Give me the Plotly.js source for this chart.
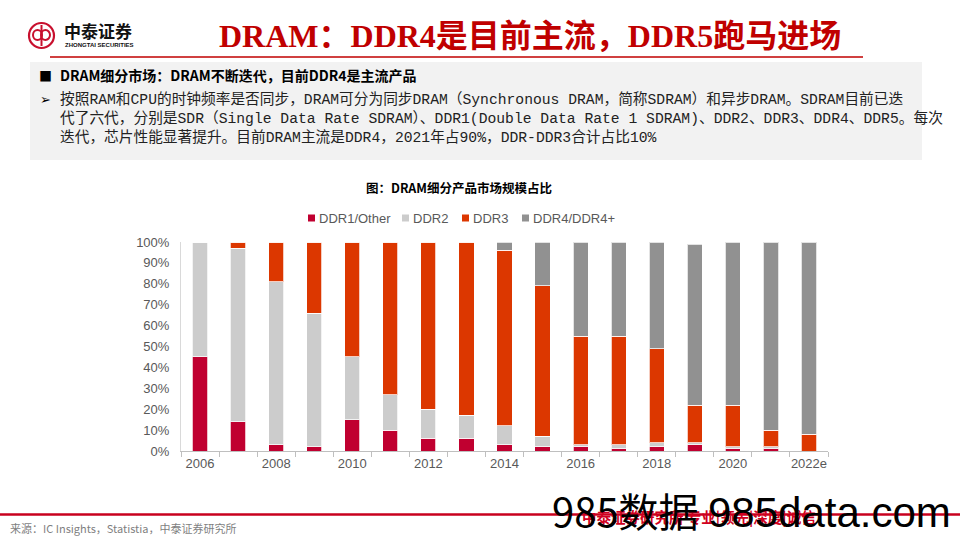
<!DOCTYPE html>
<html>
<head>
<meta charset="utf-8">
<script src="https://cdn.plot.ly/plotly-3.0.1.min.js"></script>
<style>
html,body{margin:0;padding:0;background:#fff;}
#chart{width:960px;height:540px;}
</style>
</head>
<body>
<div id="chart"></div>
<script>
// ---- data ----
const years = ['2006','2007','2008','2009','2010','2011','2012','2013','2014','2015','2016','2017','2018','2019','2020','2021','2022e'];
const ddr1  = [45, 14, 3, 2, 15, 10, 6, 6, 3, 2, 2, 1, 2, 3, 1, 1, 0];
const ddr2  = [55, 83, 78, 64, 30, 17, 14, 11, 9, 5, 1, 2, 2, 1, 1, 1, 0];
const ddr3  = [0, 3, 19, 34, 55, 73, 80, 83, 84, 72, 52, 52, 45, 18, 20, 8, 8];
const ddr4  = [0, 0, 0, 0, 0, 0, 0, 0, 4, 21, 45, 45, 51, 77, 78, 90, 92];
const seriesNames = ['DDR1/Other','DDR2','DDR3','DDR4/DDR4+'];
const yTicks = [0,10,20,30,40,50,60,70,80,90,100];
const xTickText = years.map((y,i)=> i%2===0 ? y : '');

const colors = ['#C00030','#CCCCCC','#DC3700','#919191'];

// plot area in pixels
const L=181, R=828, T=242, B=451;
const X = px => (px-L)/(R-L);
const Y = py => (B-py)/(B-T);

const series=[ddr1,ddr2,ddr3,ddr4];
const traces = series.map((s,i)=>({
  type:'bar', x:years, y:s, name:seriesNames[i],
  marker:{color:colors[i], line:{color:'rgba(255,255,255,0.75)', width:1}},
  hoverinfo:'skip', showlegend:false
}));

const cjk = '"Noto Sans CJK SC", sans-serif';
const body = '"Liberation Mono", "Noto Sans CJK SC", monospace';
const sans = '"Liberation Sans", Arial, sans-serif';

const ann = [];
function txt(text,px,py,opt){
  ann.push(Object.assign({text:text, xref:'paper', yref:'paper', x:X(px), y:Y(py),
    xanchor:'left', yanchor:'middle', showarrow:false,
    font:{family:cjk,size:14,color:'#000'}}, opt||{}));
}
// header
txt('中泰证券',62,30,{font:{family:cjk,size:17,color:'#111',weight:700}});
txt('ZHONGTAI SECURITIES',63,44.5,{font:{family:sans,size:6,color:'#111',weight:700}});
txt('<b>DRAM：DDR4是目前主流，DDR5跑马进场</b>',217,36,{font:{family:'"Liberation Serif", "Noto Sans CJK SC", serif',size:32,color:'#C00000'}});
// box text
txt('■',37,75,{font:{family:cjk,size:13,color:'#000'}});
txt('<b>DRAM细分市场：DRAM不断迭代，目前DDR4是主流产品</b>',58,75,{font:{family:cjk,size:14,color:'#000'}});
txt('➢',38,99,{font:{family:'"DejaVu Sans", sans-serif',size:13,color:'#000'}});
txt('按照RAM和CPU的时钟频率是否同步，DRAM可分为同步DRAM（Synchronous DRAM，简称SDRAM）和异步DRAM。SDRAM目前已迭',58,99,{font:{family:body,size:14.7,color:'#222'}});
txt('代了六代，分别是SDR（Single Data Rate SDRAM）、DDR1(Double Data Rate 1 SDRAM)、DDR2、DDR3、DDR4、DDR5。每次',58,118,{font:{family:body,size:14.7,color:'#222'}});
txt('迭代，芯片性能显著提升。目前DRAM主流是DDR4，2021年占90%，DDR-DDR3合计占比10%',58,137,{font:{family:body,size:14.7,color:'#222'}});
// chart title
ann.push({text:'<b>图：DRAM细分产品市场规模占比</b>', xref:'paper', yref:'paper', x:X(459), y:Y(187),
  xanchor:'center', yanchor:'middle', showarrow:false, font:{family:cjk,size:12.5,color:'#000'}});
// legend (custom, matching reference spacing)
const legX = [308, 402, 462, 522];
seriesNames.forEach((n,i)=>{
  txt(n, legX[i]+9, 218, {font:{family:sans,size:13,color:'#595959'}});
});
// footer
txt('来源：IC Insights，Statistia，中泰证券研究所',8,528,{font:{family:cjk,size:11,color:'#7F7F7F'}});
txt('<b>中泰证券研究所 专业|领先|深度|诚信</b>',580,516,{font:{family:cjk,size:14.5,color:'#D00020'}});
txt('985数据',550,510,{font:{family:cjk,size:40,color:'#000'}});
txt('985data.com',706,512,{font:{family:sans,size:42,color:'#000'}});

const shapes = [
  // gray box
  {type:'rect', xref:'paper', yref:'paper', x0:X(30), x1:X(922), y0:Y(62), y1:Y(160), fillcolor:'#F2F2F2', line:{width:0}, layer:'below'},
  // header red line
  {type:'line', xref:'paper', yref:'paper', x0:X(50), x1:X(863), y0:Y(57), y1:Y(57), line:{color:'#C00000', width:1.5}},
  // footer line
  {type:'line', xref:'paper', yref:'paper', x0:X(0), x1:X(960), y0:Y(514.5), y1:Y(514.5), line:{color:'#C8001E', width:2.5}},
  // logo
  {type:'circle', xref:'paper', yref:'paper', x0:X(29), x1:X(54), y0:Y(23), y1:Y(48), line:{color:'#C8102E', width:2.2}},
  {type:'circle', xref:'paper', yref:'paper', x0:X(33), x1:X(42), y0:Y(30), y1:Y(40), line:{color:'#C8102E', width:2}},
  {type:'circle', xref:'paper', yref:'paper', x0:X(41), x1:X(50), y0:Y(30), y1:Y(40), line:{color:'#C8102E', width:2}},
  {type:'line', xref:'paper', yref:'paper', x0:X(41.5), x1:X(41.5), y0:Y(25), y1:Y(46), line:{color:'#C8102E', width:2}}
];
// legend swatches
legX.forEach((lx,i)=>{
  shapes.push({type:'rect', xref:'paper', yref:'paper', x0:X(lx), x1:X(lx+7), y0:Y(214.5), y1:Y(221.5),
    fillcolor:colors[i], line:{width:0}});
});

const layout = {
  width:960, height:540,
  margin:{l:L, r:960-R, t:T, b:540-B, pad:0},
  paper_bgcolor:'#fff', plot_bgcolor:'#fff',
  barmode:'stack', bargap:0.6,
  font:{family:sans, size:13, color:'#595959'},
  xaxis:{type:'category', tickmode:'array', tickvals:years, ticktext:xTickText, tickangle:0,
    tickson:'boundaries', ticks:'outside', ticklen:5, tickcolor:'#BFBFBF',
    showline:true, linecolor:'#BFBFBF', linewidth:1, showgrid:false,
    tickfont:{size:13,color:'#595959'}, fixedrange:true},
  yaxis:{range:[0,100], tickmode:'array', tickvals:yTicks, ticktext:yTicks.map(v=>v+'%'),
    showgrid:false, zeroline:false, showline:true, linecolor:'#D9D9D9', linewidth:1,
    ticks:'', ticklen:0, ticklabelstandoff:8,
    tickfont:{size:13,color:'#595959'}, fixedrange:true},
  showlegend:false,
  annotations:ann,
  shapes:shapes
};

Plotly.newPlot('chart', traces, layout, {displayModeBar:false, staticPlot:true});
</script>
</body>
</html>
